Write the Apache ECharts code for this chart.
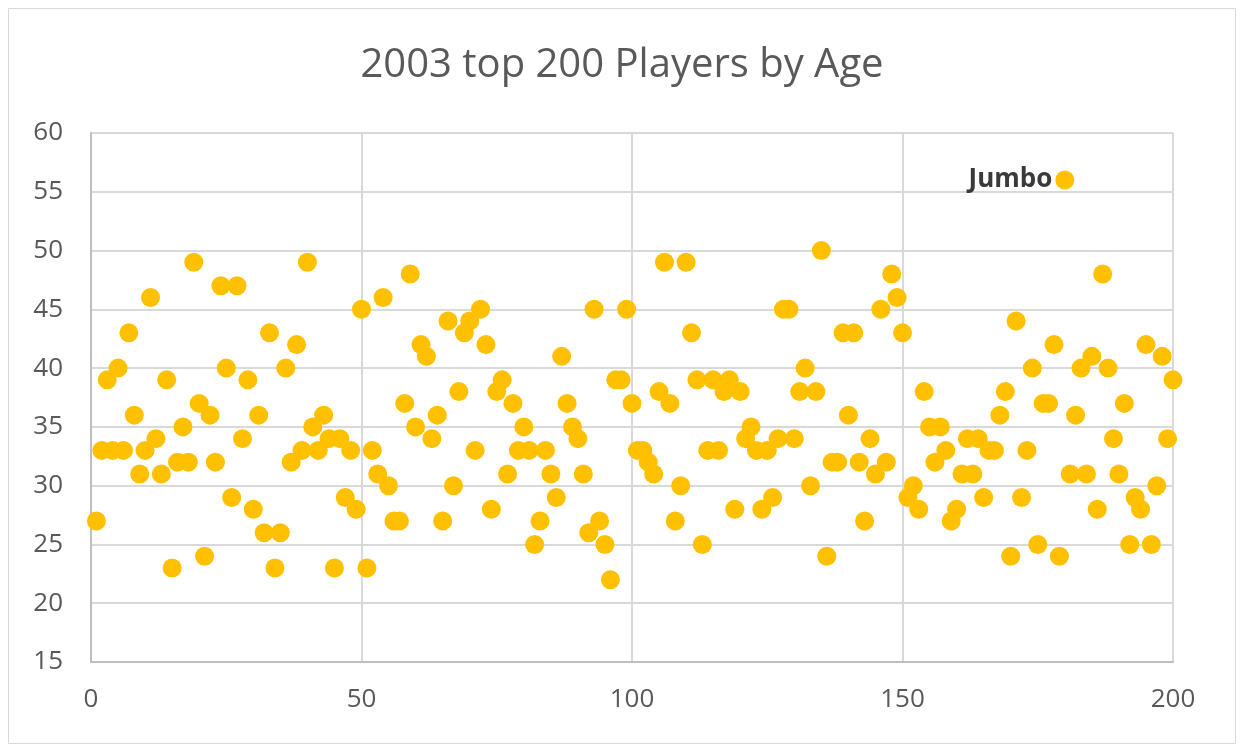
<!DOCTYPE html>
<html>
<head>
<meta charset="utf-8">
<script src="https://cdn.jsdelivr.net/npm/echarts@6/dist/echarts.min.js"></script>
<style>
html,body{margin:0;padding:0;background:#fff;}
#c{width:1244px;height:752px;}
</style>
</head>
<body>
<div id="c"></div>
<script>
const title = "2003 top 200 Players by Age";
const ages = [
27,33,39,33,40,33,43,36,31,33,
46,34,31,39,23,32,35,32,49,37,
24,36,32,47,40,29,47,34,39,28,
36,26,43,23,26,40,32,42,33,49,
35,33,36,34,23,34,29,33,28,45,
23,33,31,46,30,27,27,37,48,35,
42,41,34,36,27,44,30,38,43,44,
33,45,42,28,38,39,31,37,33,35,
33,25,27,33,31,29,41,37,35,34,
31,26,45,27,25,22,39,39,45,37,
33,33,32,31,38,49,37,27,30,49,
43,39,25,33,39,33,38,39,28,38,
34,35,33,28,33,29,34,45,45,34,
38,40,30,38,50,24,32,32,43,36,
43,32,27,34,31,45,32,48,46,43,
29,30,28,38,35,32,35,33,27,28,
31,34,31,34,29,33,33,36,38,24,
44,29,33,40,25,37,37,42,24,56,
31,36,40,31,41,28,48,40,34,31,
37,25,29,28,42,25,30,41,34,39
];
const labelledIndex = 179;
const labelText = "Jumbo";
const xTicks = [0, 50, 100, 150, 200];
const yTicks = [15, 20, 25, 30, 35, 40, 45, 50, 55, 60];

const data = ages.map((a, i) => {
  const item = { value: [i + 1, a] };
  if (i === labelledIndex) {
    item.label = {
      show: true, position: 'left', formatter: labelText,
      fontWeight: 'bold', color: '#3a3a3a', fontSize: 26,
      fontFamily: 'Open Sans', distance: 3
    };
  }
  return item;
});

const chart = echarts.init(document.getElementById('c'), null, {renderer: 'canvas'});
chart.setOption({
  animation: false,
  backgroundColor: '#fff',
  title: {
    text: title, left: 'center', top: 41,
    textStyle: {fontFamily: 'Open Sans', fontSize: 40, fontWeight: 'normal', color: '#595959'}
  },
  graphic: [{
    type: 'rect', shape: {x: 8.5, y: 8.5, width: 1227, height: 735},
    style: {fill: null, stroke: '#d9d9d9', lineWidth: 1}, silent: true, z: -1
  }],
  grid: {left: 91, right: 71, top: 133, bottom: 90},
  xAxis: {
    type: 'value', min: xTicks[0], max: xTicks[xTicks.length - 1], interval: 50,
    axisLine: {show: true, lineStyle: {color: '#bfbfbf', width: 2}},
    axisTick: {show: false},
    splitLine: {show: true, lineStyle: {color: '#d9d9d9', width: 2}},
    axisLabel: {fontFamily: 'Open Sans', fontSize: 26, color: '#595959', margin: 25}
  },
  yAxis: {
    type: 'value', min: yTicks[0], max: yTicks[yTicks.length - 1], interval: 5,
    axisLine: {show: true, lineStyle: {color: '#bfbfbf', width: 2}},
    axisTick: {show: false},
    splitLine: {show: true, lineStyle: {color: '#d9d9d9', width: 2}},
    axisLabel: {fontFamily: 'Open Sans', fontSize: 26, color: '#595959', margin: 28}
  },
  series: [{
    type: 'scatter', data: data, symbol: 'circle', symbolSize: 19,
    itemStyle: {color: '#FFC000', opacity: 1}
  }]
});
</script>
</body>
</html>
